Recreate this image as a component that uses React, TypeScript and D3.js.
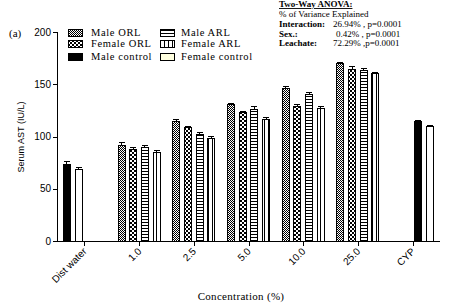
import React from "react";
import * as d3 from "d3";

const categories = ["Dist water", "1.0", "2.5", "5.0", "10.0", "25.0", "CYP"];
const maleORL = [null, 91.8, 114.5, 130.8, 146, 170, null];
const femaleORL = [null, 87.7, 109, 123.4, 129, 164.6, null];
const maleARL = [null, 89.7, 102.4, 126, 140.7, 163.3, null];
const femaleARL = [null, 85.2, 98.3, 116.5, 127, 160.8, null];
const maleControl = [73.7, null, null, null, null, null, 114.8];
const femaleControl = [68.6, null, null, null, null, null, 109.8];
const maleORLErr = [0, 2, 1.3, 1, 2, 1, 0];
const femaleORLErr = [0, 1.3, 1, 1, 2, 2, 0];
const maleARLErr = [0, 2, 1.6, 2.9, 1, 2, 0];
const femaleARLErr = [0, 1.6, 2, 2, 2, 0.7, 0];
const maleControlErr = [2, 0, 0, 0, 0, 0, 0.8];
const femaleControlErr = [2, 0, 0, 0, 0, 0, 0.6];
const yTicks = [0, 50, 100, 150, 200];

const series = [
  { name: "Male ORL", values: maleORL, err: maleORLErr, fill: "url(#pMaleORL)" },
  { name: "Female ORL", values: femaleORL, err: femaleORLErr, fill: "url(#pFemaleORL)" },
  { name: "Male ARL", values: maleARL, err: maleARLErr, fill: "url(#pMaleARL)" },
  { name: "Female ARL", values: femaleARL, err: femaleARLErr, fill: "url(#pFemaleARL)" },
  { name: "Male control", values: maleControl, err: maleControlErr, fill: "#000" },
  { name: "Female control", values: femaleControl, err: femaleControlErr, fill: "#fff" },
];

export default function App() {
  const W = 451, H = 308;
  const x = d3.scaleBand().domain(categories).range([57, 440]);
  const y = d3.scaleLinear().domain([0, 200]).range([241, 32]);
  const step = x.bandwidth() * 0.214;
  const bw = 8;

  const bars: any[] = [];
  categories.forEach((c, ci) => {
    const present = series
      .map((s, si) => ({ s, si, v: s.values[ci], e: s.err[ci] }))
      .filter((d) => d.v != null);
    const startSlot = ci === 0 ? 0 : present.length === 2 ? 2 : 0;
    present.forEach((d, k) => {
      const slot = startSlot + k;
      const cx = (x(c) as number) + x.bandwidth() / 2 + (slot - 1.5) * step;
      bars.push({ key: c + d.si, cx, v: d.v, e: d.e, fill: d.s.fill });
    });
  });

  const serif = "Liberation Serif";
  const sans = "Liberation Sans";

  const legend = [
    { col: 0, row: 0, si: 0 },
    { col: 0, row: 1, si: 1 },
    { col: 0, row: 2, si: 4 },
    { col: 1, row: 0, si: 2 },
    { col: 1, row: 1, si: 3 },
    { col: 1, row: 2, si: 5 },
  ];
  const rowY = [33, 43.5, 57];

  return (
    <svg width={W} height={H} style={{ position: "absolute", left: 0, top: 0, background: "#fff" }}>
      <defs>
        <pattern id="pMaleORL" patternUnits="userSpaceOnUse" width="2" height="2">
          <rect width="2" height="2" fill="#fff" />
          <rect x="0" y="0" width="1" height="1" fill="#000" />
          <rect x="1" y="1" width="1" height="1" fill="#000" />
        </pattern>
        <pattern id="pFemaleORL" patternUnits="userSpaceOnUse" width="4" height="4">
          <rect width="4" height="4" fill="#fff" />
          <rect x="0" y="0" width="2" height="2" fill="#000" />
          <rect x="2" y="2" width="2" height="2" fill="#000" />
        </pattern>
        <pattern id="pMaleARL" patternUnits="userSpaceOnUse" width="3" height="3">
          <rect width="3" height="3" fill="#fff" />
          <rect x="0" y="0" width="3" height="1" fill="#000" />
        </pattern>
        <pattern id="pFemaleARL" patternUnits="userSpaceOnUse" width="4" height="4">
          <rect width="4" height="4" fill="#fff" />
          <rect x="0" y="0" width="1" height="4" fill="#000" />
        </pattern>
      </defs>

      {/* bars */}
      <g shapeRendering="crispEdges">
        {bars.map((b) => {
          const top = y(b.v);
          const eTop = y(b.v + b.e);
          return (
            <g key={b.key}>
              <rect x={b.cx - bw / 2 + 0.5} y={top + 0.5} width={bw - 1} height={y(0) - top} fill={b.fill} stroke="#000" strokeWidth={1} />
              {b.e > 0 && (
                <>
                  <line x1={b.cx} x2={b.cx} y1={top} y2={eTop} stroke="#000" />
                  <line x1={b.cx - 3} x2={b.cx + 3} y1={eTop} y2={eTop} stroke="#000" />
                </>
              )}
            </g>
          );
        })}
      </g>

      {/* axes */}
      <g shapeRendering="crispEdges" stroke="#000">
        <line x1={57.5} x2={57.5} y1={y(200)} y2={y(0)} />
        <line x1={57} x2={440} y1={241.5} y2={241.5} />
        {yTicks.map((t) => (
          <line key={t} x1={53} x2={57} y1={Math.round(y(t)) + 0.5} y2={Math.round(y(t)) + 0.5} />
        ))}
        {categories.map((c) => {
          const cx = Math.round((x(c) as number) + x.bandwidth() / 2) + 0.5;
          return <line key={c} x1={cx} x2={cx} y1={241} y2={246} />;
        })}
      </g>
      {yTicks.map((t) => (
        <text key={t} x={51} y={y(t)} dy="0.35em" textAnchor="end" fontFamily={sans} fontSize={10}>
          {t}
        </text>
      ))}
      {categories.map((c) => {
        const cx = (x(c) as number) + x.bandwidth() / 2;
        return (
          <text key={c} transform={`translate(${cx + 3},${252}) rotate(-45)`} textAnchor="end" fontFamily={sans} fontSize={10}>
            {c}
          </text>
        );
      })}
      <text transform={`translate(24,137) rotate(-90)`} textAnchor="middle" fontFamily={sans} fontSize={9}>
        Serum AST (IU/L)
      </text>
      <text x={241} y={300} textAnchor="middle" fontFamily={serif} fontSize={11} letterSpacing={0.3}>
        Concentration (%)
      </text>
      <text x={9} y={37} fontFamily={serif} fontSize={11}>(a)</text>

      {/* legend */}
      <g>
        {legend.map((l) => {
          const s = series[l.si];
          const sx = l.col === 0 ? 68 : 160;
          const tx = l.col === 0 ? 91 : 181;
          const yy = rowY[l.row];
          return (
            <g key={s.name}>
              <rect x={sx + 0.5} y={yy - 3.5} width={14} height={7} fill={l.si === 5 ? "#ffffe0" : s.fill} stroke="#000" shapeRendering="crispEdges" />
              <text x={tx} y={yy} dy="0.33em" fontFamily={serif} fontSize={10.5} letterSpacing={0.6}>{s.name}</text>
            </g>
          );
        })}
      </g>

      {/* ANOVA */}
      <g fontFamily={serif} fontSize={9}>
        <text x={279} y={7} fontWeight="bold" textDecoration="underline">Two-Way ANOVA:</text>
        <text x={279} y={17}>% of Variance Explained</text>
        <text x={279} y={27} fontWeight="bold">Interaction:</text>
        <text x={333} y={27}>26.94% , p=0.0001</text>
        <text x={279} y={36.5} fontWeight="bold">Sex.:</text>
        <text x={336} y={36.5}>0.42% , p=0.0001</text>
        <text x={279} y={46} fontWeight="bold">Leachate:</text>
        <text x={333} y={46}>72.29% ,p=0.0001</text>
      </g>
    </svg>
  );
}
